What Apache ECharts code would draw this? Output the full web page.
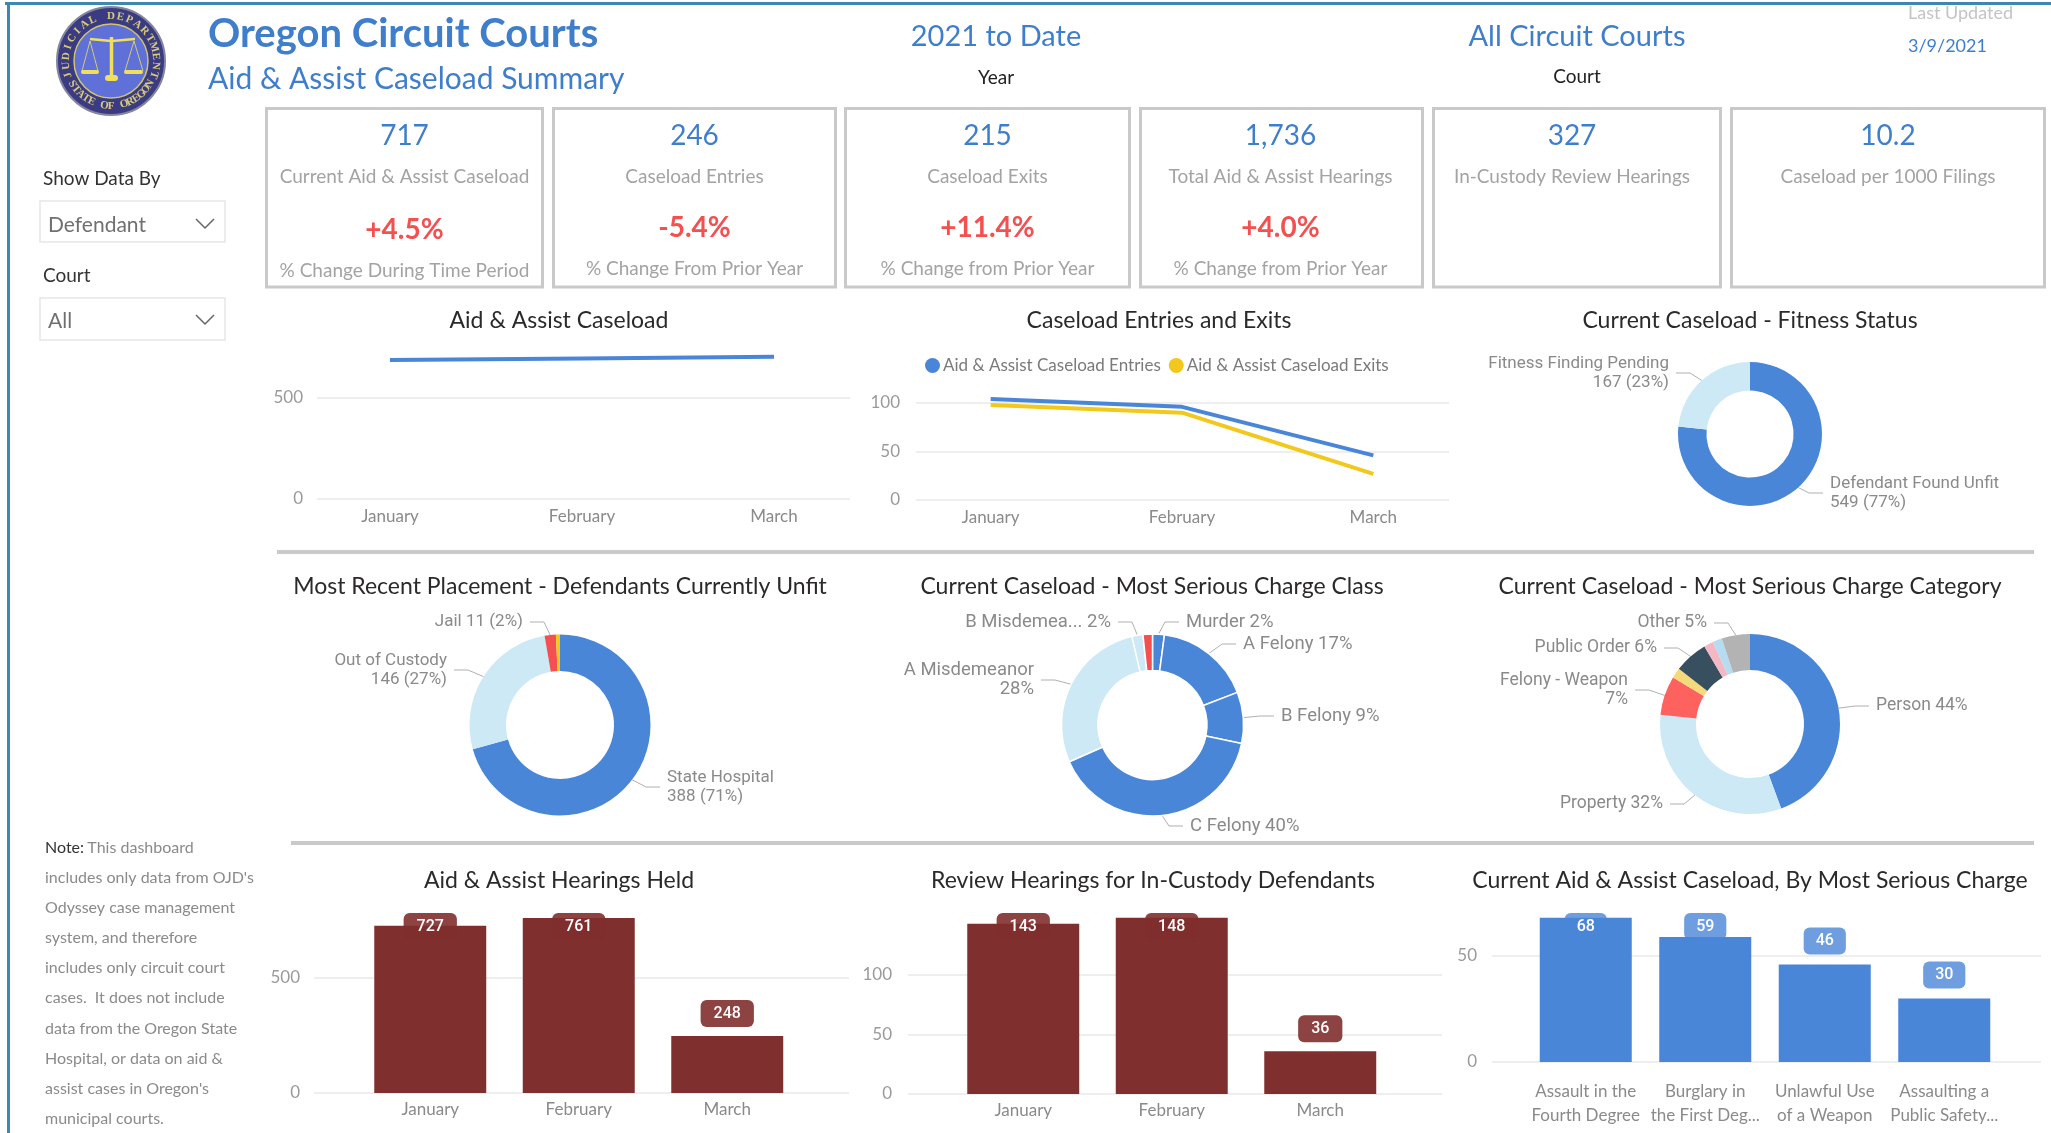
<!DOCTYPE html>
<html><head><meta charset="utf-8">
<script src="https://cdn.jsdelivr.net/npm/echarts@6/dist/echarts.min.js"></script>
<style>html,body{margin:0;padding:0;background:#fff}#c{width:2051px;height:1133px;filter:blur(.45px)}</style>
</head><body><div id="c"></div>
<script>
// ---------- data ----------
const months = ['January','February','March'];
const caseload = [688,696,704];
const entries = [104,96,46];
const exits = [98,90,27];
const hearings = [727,761,248];
const reviews = [143,148,36];
const chargeNames = ['Assault in the\nFourth Degree','Burglary in\nthe First Deg...','Unlawful Use\nof a Weapon','Assaulting a\nPublic Safety...'];
const chargeValues = [68,59,46,30];

const fitnessNames = ['Defendant Found Unfit','Fitness Finding Pending'];
const fitnessValues = [549,167];
const fitnessLabels = ['Defendant Found Unfit\n549 (77%)','Fitness Finding Pending\n167 (23%)'];

const placementNames = ['State Hospital','Out of Custody','Jail','Other placement'];
const placementValues = [388,146,11,4];
const placementLabels = ['State Hospital\n388 (71%)','Out of Custody\n146 (27%)','Jail 11 (2%)',''];

const classNames = ['Murder','A Felony','B Felony','C Felony','A Misdemeanor','B Misdemeanor','Other class'];
const classValues = [15,122,65,287,200,14,12];
const classLabels = ['Murder 2%','A Felony 17%','B Felony 9%','C Felony 40%','A Misdemeanor\n28%','B Misdemea... 2%',''];

const categoryNames = ['Person','Property','Felony - Weapon','Felony - Other','Public Order','Drug','Misdemeanor','Other'];
const categoryValues = [315,229,50,13,43,12,12,36];
const categoryLabels = ['Person 44%','Property 32%','Felony - Weapon\n7%','','Public Order 6%','','','Other 5%'];

const kpiValues = ['717','246','215','1,736','327','10.2'];
const kpiLabels = ['Current Aid & Assist Caseload','Caseload Entries','Caseload Exits','Total Aid & Assist Hearings','In-Custody Review Hearings','Caseload per 1000 Filings'];
const kpiChanges = ['+4.5%','-5.4%','+11.4%','+4.0%','',''];
const kpiChangeLabels = ['% Change During Time Period','% Change From Prior Year','% Change from Prior Year','% Change from Prior Year','',''];

const noteLines = ['This dashboard','includes only data from OJD\'s','Odyssey case management','system, and therefore','includes only circuit court','cases.  It does not include','data from the Oregon State','Hospital, or data on aid &','assist cases in Oregon\'s','municipal courts.'];

// ---------- style ----------
const BLUE='#4a86d8', LIGHT='#cce9f5', RED='#f4504f', YEL='#f2c81c', MAROON='#7f2f2e';
const TITLE='#2b2a29', TXTBLUE='#3f7ecb';
const SANS='Lato, Roboto, sans-serif', DIN='Roboto, sans-serif';
const LABEL_GAP=7;

const grids=[], xAxes=[], yAxes=[], series=[], titles=[];

function addTitle(text,x,y){
  titles.push({text,left:x,top:y-12,textAlign:'center',padding:0,
    textStyle:{fontFamily:SANS,fontSize:23,fontWeight:400,color:TITLE}});
}
// backing grid carries the gridlines and value labels; the data grid carries the bands
function cartesian(o){
  const g=grids.length;
  grids.push({left:o.gridL,width:o.gridR-o.gridL,top:o.top,height:o.y0-o.top,containLabel:false});
  xAxes.push({gridIndex:g,type:'value',show:false,min:0,max:1});
  yAxes.push({gridIndex:g,type:'value',min:0,max:o.max,interval:o.interval,
    axisLine:{show:false},axisTick:{show:false},
    axisLabel:{color:'#9a9a9a',fontFamily:SANS,fontSize:17,margin:o.labelGap,showMaxLabel:false},
    splitLine:{show:true,showMaxLine:false,lineStyle:{color:'#e8e8e8',width:1.5}}});
  grids.push({left:o.bandL,width:o.bandR-o.bandL,top:o.top,height:o.y0-o.top,containLabel:false});
  xAxes.push({gridIndex:g+1,type:'category',data:o.cats,
    axisLine:{show:false},axisTick:{show:false},
    axisLabel:{color:'#8a8a8a',fontFamily:SANS,fontSize:17,margin:o.catGap||8,lineHeight:o.lineHeight||20,interval:0}});
  yAxes.push({gridIndex:g+1,type:'value',show:false,min:0,max:o.max});
  return g+1;
}
function lineSeries(g,name,data,color){
  series.push({type:'line',name,xAxisIndex:g,yAxisIndex:g,data,symbol:'none',
    lineStyle:{color,width:4},itemStyle:{color}});
}
function barSeries(g,data,color,boxColor,width,dist,top,padX){
  series.push({type:'bar',xAxisIndex:g,yAxisIndex:g,data,barWidth:width,itemStyle:{color},
    label:{show:true,position:'top',distance:dist,color:'#fff',fontFamily:DIN,fontWeight:500,fontSize:16,
      backgroundColor:boxColor,borderRadius:6,padding:[6,padX,5,padX]},
    labelLayout(p){ return {dy:Math.max(0,top-p.labelRect.y)}; }});
}
function donut(cx,cy,ro,ri,names,values,labels,colors,anchors,border,size){
  series.push({type:'pie',center:[cx,cy],radius:[ri,ro],startAngle:90,clockwise:true,
    avoidLabelOverlap:false,animation:false,
    itemStyle:{borderColor:'#fff',borderWidth:border},
    data:names.map((n,i)=>({name:n,value:values[i],itemStyle:{color:colors[i]},
      label:{show:!!labels[i],formatter:labels[i]},labelLine:{show:!!labels[i]}})),
    label:{position:'outside',color:'#8a8a8a',fontFamily:DIN,fontSize:size,lineHeight:19,padding:[0,LABEL_GAP]},
    labelLine:{length:8,length2:14,lineStyle:{color:'#b0b0b0',width:1}},
    labelLayout(p){const a=anchors[p.dataIndex];
      return a?{x:a[0]+(a[2]==='left'?-LABEL_GAP:LABEL_GAP),y:a[1],align:a[2],verticalAlign:'middle'}:{};}
  });
}

// ---------- charts ----------
addTitle('Aid & Assist Caseload',559,321);
let g=cartesian({gridL:317,gridR:850,bandL:294,bandR:870,top:340,y0:499,max:787,interval:500,cats:months,labelGap:14});
lineSeries(g,'Aid & Assist Caseload',caseload,BLUE);

addTitle('Caseload Entries and Exits',1159,321);
g=cartesian({gridL:916,gridR:1449,bandL:895,bandR:1469,top:380,y0:500,max:123.7,interval:50,cats:months,labelGap:16});
lineSeries(g,'Aid & Assist Caseload Entries',entries,BLUE);
lineSeries(g,'Aid & Assist Caseload Exits',exits,YEL);

addTitle('Current Caseload - Fitness Status',1750,321);
donut(1750,434,72,43.6,fitnessNames,fitnessValues,fitnessLabels,[BLUE,LIGHT],[[1830,493,'left'],[1669,373,'right']],0,17);

addTitle('Most Recent Placement - Defendants Currently Unfit',560,587);
donut(560,725,90.5,54,placementNames,placementValues,placementLabels,[BLUE,LIGHT,RED,YEL],[[667,787,'left'],[447,670,'right'],[523,622,'right'],null],0,17);

addTitle('Current Caseload - Most Serious Charge Class',1152,587);
donut(1152.5,725,91,54.5,classNames,classValues,classLabels,[BLUE,BLUE,BLUE,BLUE,LIGHT,LIGHT,RED],
  [[1186,622,'left'],[1243,644,'left'],[1281,716,'left'],[1190,826,'left'],[1034,680,'right'],[1111,622,'right'],null],1.5,18.5);

addTitle('Current Caseload - Most Serious Charge Category',1750,587);
donut(1750,724,90,54,categoryNames,categoryValues,categoryLabels,[BLUE,LIGHT,'#fd625e','#f5d97a','#374f5e','#f4b8c4','#b5dcf0','#b3b3b3'],
  [[1876,706,'left'],[1663,804,'right'],[1628,690,'right'],null,[1657,648,'right'],null,null,[1707,623,'right']],0,17.5);

addTitle('Aid & Assist Hearings Held',559,881);
g=cartesian({gridL:314,gridR:849,bandL:356,bandR:801.5,top:912,y0:1093,max:787,interval:500,cats:months,labelGap:14,catGap:7});
barSeries(g,hearings,MAROON,'rgba(127,47,46,.9)','75.4%',9,913,13);

addTitle('Review Hearings for In-Custody Defendants',1153,881);
g=cartesian({gridL:908,gridR:1442,bandL:949,bandR:1394.5,top:916,y0:1094,max:149.5,interval:50,cats:months,labelGap:16,catGap:7});
barSeries(g,reviews,MAROON,'rgba(127,47,46,.9)','75.4%',9,913,13);

addTitle('Current Aid & Assist Caseload, By Most Serious Charge',1750,881);
g=cartesian({gridL:1492,gridR:2041,bandL:1526,bandR:2004,top:912,y0:1062,max:70.75,interval:50,cats:chargeNames,labelGap:15,catGap:18,lineHeight:24});
barSeries(g,chargeValues,BLUE,'rgba(74,134,216,.8)','77%',10,913,12);

// ---------- static page furniture ----------
const gfx=[];
function txt(text,x,y,size,fill,align,weight,family){
  gfx.push({type:'text',silent:true,style:{text,x,y,fill,align:align||'left',verticalAlign:'middle',
    font:(weight||400)+' '+size+'px '+(family||SANS)}});
}
function rect(x,y,w,h,fill,stroke,lw){
  gfx.push({type:'rect',silent:true,shape:{x,y,width:w,height:h},style:{fill:fill||'none',stroke:stroke||'none',lineWidth:lw||0}});
}
// frame
rect(5,2,2046,3,'#3f86b0'); rect(7,2,3,1131,'#3f86b0');
// logo
const LX=111,LY=61;
function circ(r,fill,stroke,lw){gfx.push({type:'circle',silent:true,shape:{cx:LX,cy:LY,r},style:{fill:fill,stroke:stroke||'none',lineWidth:lw||0}});}
circ(54,'#3a3b82','#85859e',2); circ(37,'#5f70d8','#d0c56a',1.5);
function ringText(s,mid,step,rad,flip){
  [...s].forEach((ch,i)=>{
    const a=(mid+(i-(s.length-1)/2)*step*(flip?-1:1))*Math.PI/180;
    gfx.push({type:'text',silent:true,x:LX+rad*Math.sin(a),y:LY-rad*Math.cos(a),rotation:flip?Math.PI-a:-a,
      style:{text:ch,x:0,y:0,fill:'#d8cc78',align:'center',verticalAlign:'middle',font:'700 11px "Liberation Serif",serif'}});
  });
}
ringText('JUDICIAL DEPARTMENT',0,12,45,false);
ringText('STATE OF OREGON',180,8.5,45,true);
function seg(a,b,c,d,w){gfx.push({type:'line',silent:true,shape:{x1:a,y1:b,x2:c,y2:d},style:{stroke:'#f0df5a',lineWidth:w}});}
seg(111.5,37,111.5,78,3.5); seg(90,39,111,41,2.5); seg(112,41,135,39,2.5);
seg(82,71,90,41,.8); seg(98,71,90,41,.8); seg(125,71,134,41,.8); seg(143,71,134,41,.8);
gfx.push({type:'rect',silent:true,shape:{x:81,y:70,width:18,height:4,r:2},style:{fill:'#f0df5a'}});
gfx.push({type:'rect',silent:true,shape:{x:124,y:70,width:19,height:4,r:2},style:{fill:'#f0df5a'}});
gfx.push({type:'rect',silent:true,shape:{x:105,y:75,width:13,height:6,r:3},style:{fill:'#f0df5a'}});

// header
txt('Oregon Circuit Courts',208,34,40,TXTBLUE,'left',700,SANS);
txt('Aid & Assist Caseload Summary',208,79,30,TXTBLUE);
txt('2021 to Date',996,37,29,TXTBLUE,'center');
txt('Year',996,78,19,'#222','center');
txt('All Circuit Courts',1577,37,29,TXTBLUE,'center');
txt('Court',1577,77,19,'#222','center');
txt('Last Updated',1908,13,18,'#c4c4c4');
txt('3/9/2021',1908,46,18,TXTBLUE);

// slicers
txt('Show Data By',43,179,19,'#333');
rect(40,201,185,41,'#fff','#e6e6e6',1.5);
txt('Defendant',48,225,21,'#707070');
gfx.push({type:'polyline',silent:true,shape:{points:[[196,219],[205,228],[214,219]]},style:{stroke:'#666',fill:'none',lineWidth:1.5}});
txt('Court',43,276,19,'#333');
rect(40,298,185,42,'#fff','#e6e6e6',1.5);
txt('All',48,321,21,'#707070');
gfx.push({type:'polyline',silent:true,shape:{points:[[196,315],[205,324],[214,315]]},style:{stroke:'#666',fill:'none',lineWidth:1.5}});

// note
const noteY=[848,878,908,938,968,998,1029,1059,1089,1119];
gfx.push({type:'text',silent:true,style:{x:45,y:noteY[0],verticalAlign:'middle',
  rich:{n:{fill:'#333',font:'400 16px '+SANS},g:{fill:'#8a8a8a',font:'400 16px '+SANS}},
  text:'{n|Note:} {g|'+noteLines[0]+'}'}});
noteLines.slice(1).forEach((l,i)=>txt(l,45,noteY[i+1],16,'#8a8a8a'));

// KPI cards
const cardL=[265,552,844,1139,1432,1730], cardR=[544,837,1131,1424,1722,2046];
const cardCx=[404.5,694.5,987.5,1280.5,1572,1888];
cardL.forEach((l,i)=>{
  rect(l+1.5,108.5,cardR[i]-l-3,178.5,'#fff','#c9c9c9',3);
  txt(kpiValues[i],cardCx[i],136,28,TXTBLUE,'center');
  txt(kpiLabels[i],cardCx[i],176.5,19,'#a3a3a3','center');
  if(kpiChanges[i]) txt(kpiChanges[i],cardCx[i],i?228:230,28,RED,'center',700);
  if(kpiChangeLabels[i]) txt(kpiChangeLabels[i],cardCx[i],i?269:271,19,'#a3a3a3','center');
});
// dividers
rect(277,550,1757,4,'#c9c9c9'); rect(291,841,1743,4,'#c9c9c9');

const chart=echarts.init(document.getElementById('c'));
chart.setOption({
  animation:false,backgroundColor:'#fff',
  title:titles,grid:grids,xAxis:xAxes,yAxis:yAxes,series,
  legend:{left:920,top:352,itemWidth:15,itemHeight:15,itemGap:8,icon:'circle',
    data:['Aid & Assist Caseload Entries','Aid & Assist Caseload Exits'],
    textStyle:{color:'#7a7a7a',fontFamily:SANS,fontSize:17,padding:[0,0,0,-2]}},
  graphic:{elements:gfx}
});
</script></body></html>
